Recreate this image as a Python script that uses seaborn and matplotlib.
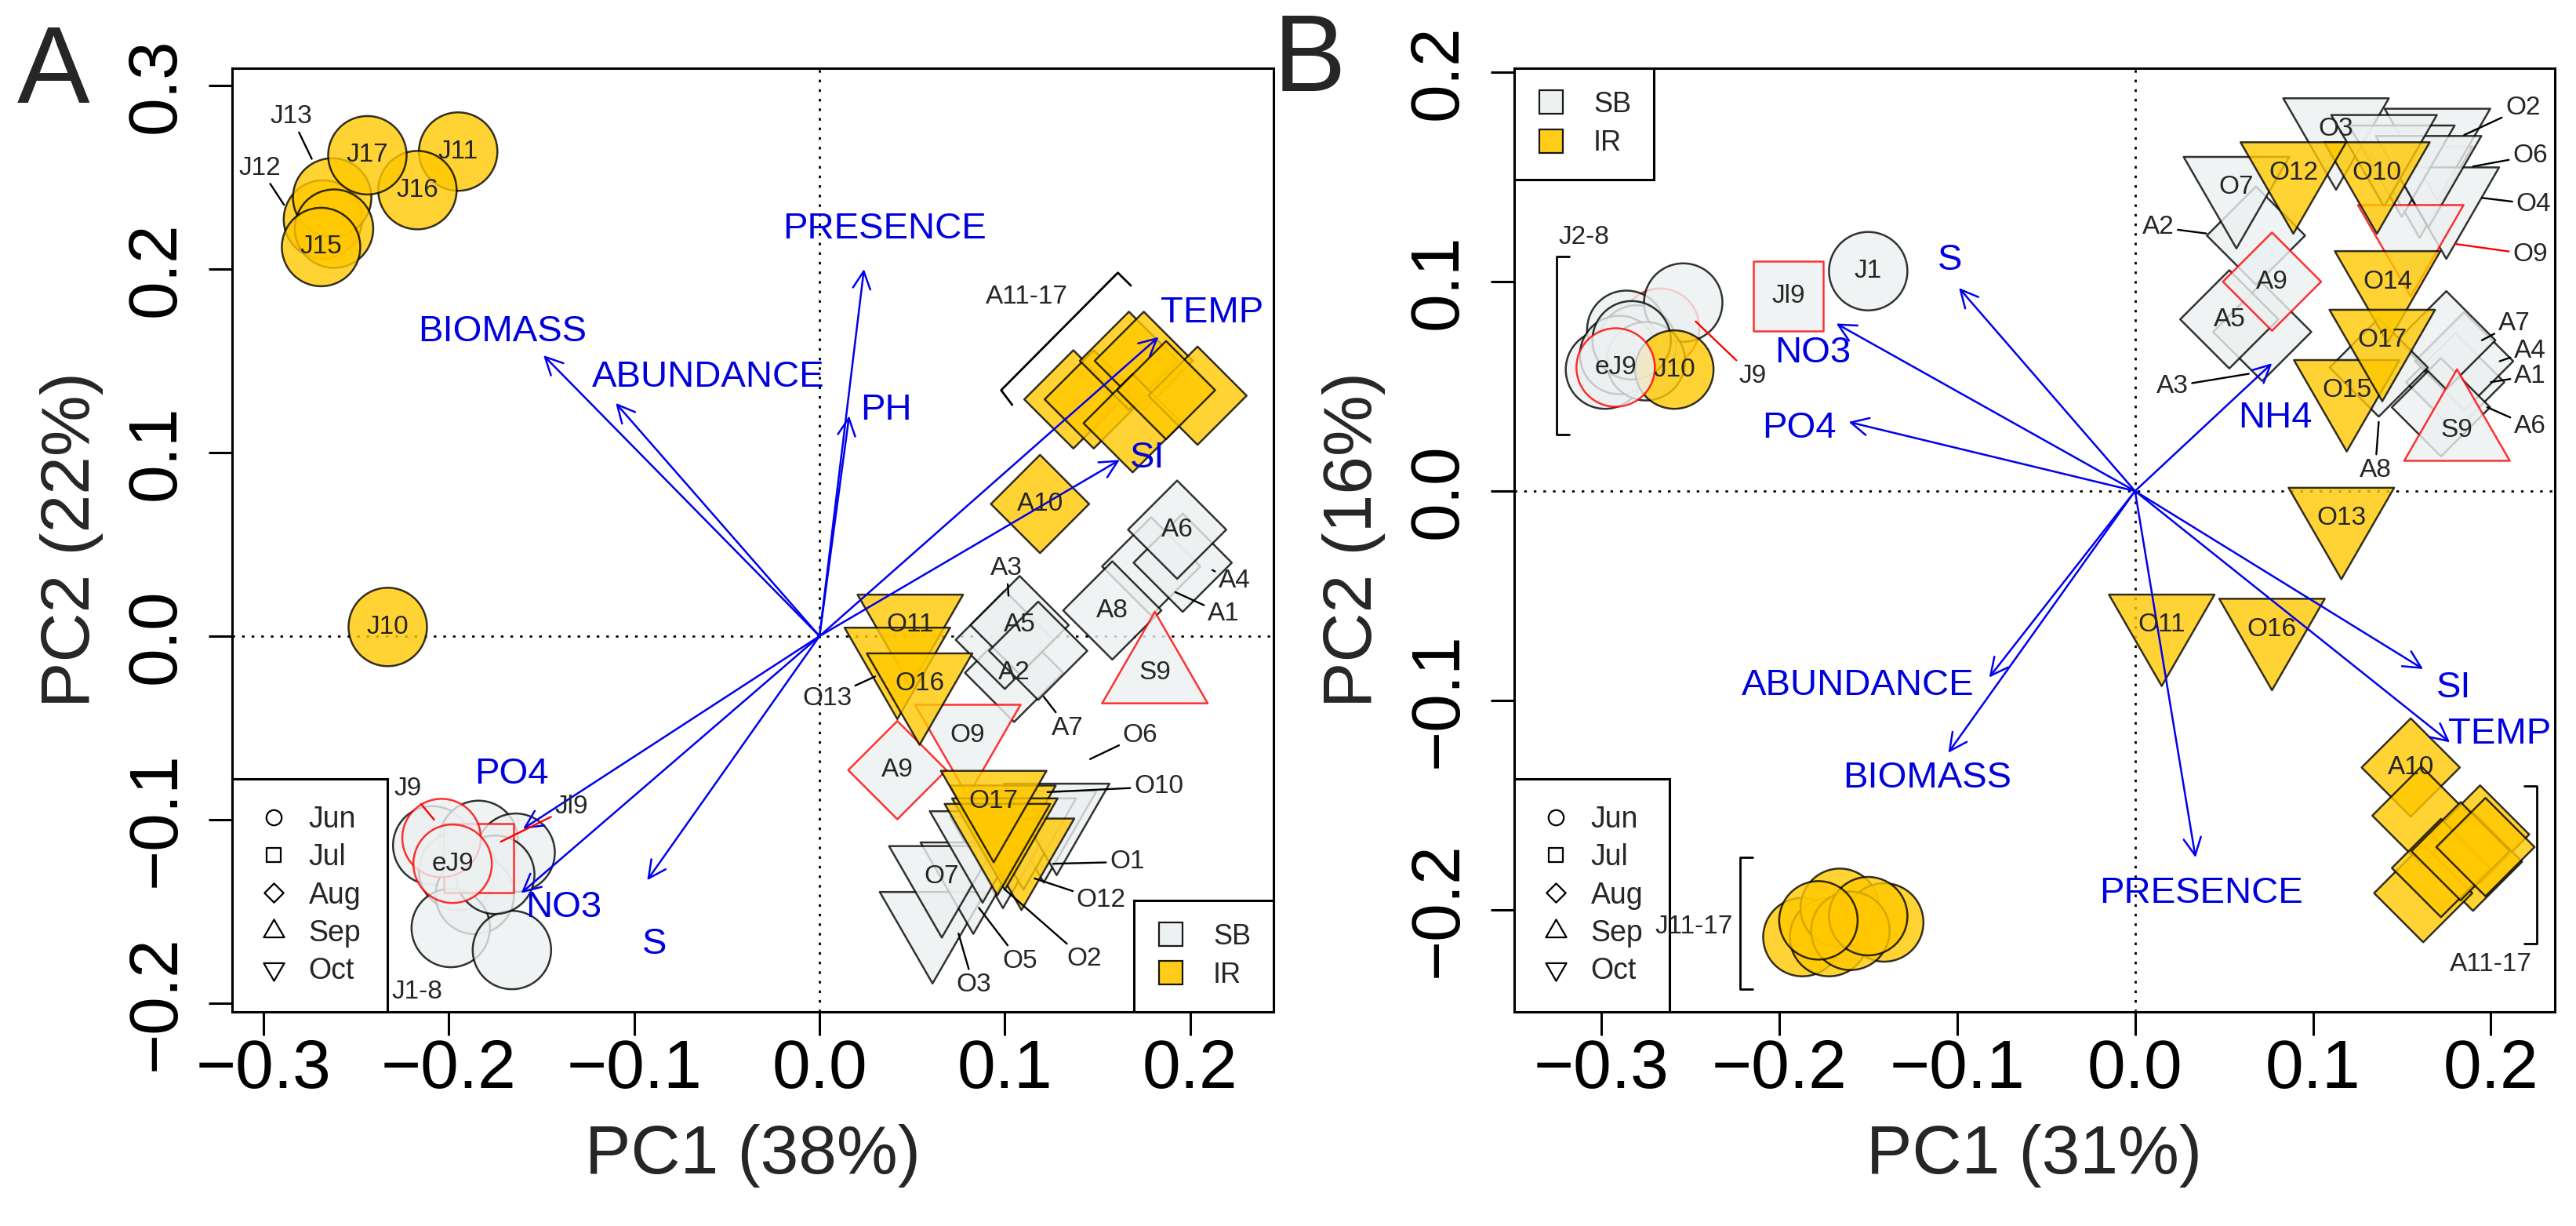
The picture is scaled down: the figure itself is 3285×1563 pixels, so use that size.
import numpy as np
import pandas as pd
import matplotlib
matplotlib.use("Agg")
import matplotlib.pyplot as plt
from matplotlib.path import Path
from matplotlib.lines import Line2D
import seaborn as sns

sns.set_style("ticks")
plt.rcParams['font.family'] = ['Liberation Sans', 'DejaVu Sans']

#### panel A : samples (PC1 38%, PC2 22%)
a_names = ['J1', 'J2', 'J3', 'J4', 'J5', 'J6', 'J7', 'J8', 'Jl9', 'J9', 'eJ9',
           'J10', 'J11', 'J12', 'J13', 'J14', 'J15', 'J16', 'J17',
           'A1', 'A2', 'A3', 'A4', 'A5', 'A6', 'A7', 'A8', 'A9',
           'A10', 'A11', 'A12', 'A13', 'A14', 'A15', 'A16', 'A17',
           'S9',
           'O1', 'O2', 'O3', 'O4', 'O5', 'O6', 'O7', 'O8', 'O9',
           'O10', 'O11', 'O12', 'O13', 'O14', 'O15', 'O16', 'O17']
a_x = [-0.209, -0.184, -0.164, -0.195, -0.186, -0.199, -0.166, -0.175, -0.184, -0.204, -0.198,
       -0.233, -0.195, -0.268, -0.263, -0.262, -0.269, -0.217, -0.244,
       0.179, 0.105, 0.100, 0.196, 0.108, 0.193, 0.118, 0.158, 0.042,
       0.119, 0.137, 0.148, 0.167, 0.175, 0.169, 0.204, 0.187,
       0.181,
       0.121, 0.099, 0.061, 0.110, 0.083, 0.128, 0.066, 0.088, 0.080,
       0.099, 0.049, 0.109, 0.042, 0.100, 0.096, 0.054, 0.094]
a_y = [-0.114, -0.111, -0.118, -0.128, -0.141, -0.159, -0.171, -0.130, -0.121, -0.110, -0.124,
       0.005, 0.264, 0.227, 0.239, 0.222, 0.212, 0.243, 0.262,
       0.038, -0.020, -0.002, 0.040, 0.006, 0.058, -0.008, 0.014, -0.073,
       0.072, 0.129, 0.129, 0.150, 0.150, 0.116, 0.131, 0.134,
       -0.020,
       -0.101, -0.115, -0.156, -0.105, -0.129, -0.097, -0.131, -0.112, -0.054,
       -0.098, 0.006, -0.116, -0.012, -0.105, -0.108, -0.026, -0.090]
a_inner = ['J10', 'J11', 'J15', 'J16', 'J17', 'eJ9', 'A2', 'A5', 'A6', 'A8', 'A9', 'A10',
           'S9', 'O7', 'O9', 'O11', 'O16', 'O17']
# labels with leader lines: text, label x, label y, target x, target y
a_call = [('J13', -0.285, 0.283, -0.274, 0.260), ('J12', -0.302, 0.255, -0.289, 0.235),
          ('J9', -0.222, -0.083, -0.208, -0.100), ('Jl9', -0.134, -0.093, -0.172, -0.112),
          ('O13', 0.004, -0.034, 0.030, -0.022), ('O6', 0.173, -0.054, 0.146, -0.067),
          ('O10', 0.183, -0.082, 0.123, -0.085), ('O1', 0.166, -0.123, 0.126, -0.124),
          ('O12', 0.152, -0.144, 0.116, -0.132), ('O2', 0.143, -0.176, 0.100, -0.138),
          ('O5', 0.108, -0.177, 0.086, -0.148), ('O3', 0.083, -0.190, 0.075, -0.162),
          ('A3', 0.101, 0.037, 0.102, 0.022), ('A7', 0.134, -0.050, 0.121, -0.033),
          ('A4', 0.224, 0.030, 0.212, 0.036), ('A1', 0.218, 0.012, 0.192, 0.024)]
a_red = ['J9', 'Jl9']
# environmental arrows: name, head x, head y, label x, label y
a_vars = ['BIOMASS', 'ABUNDANCE', 'PH', 'PRESENCE', 'TEMP', 'SI', 'PO4', 'NO3', 'S']
a_vx = [-0.149, -0.110, 0.016, 0.024, 0.183, 0.162, -0.160, -0.161, -0.093]
a_vy = [0.153, 0.127, 0.120, 0.200, 0.163, 0.096, -0.105, -0.140, -0.133]
a_lx = [-0.171, -0.060, 0.036, 0.035, 0.212, 0.177, -0.166, -0.138, -0.089]
a_ly = [0.166, 0.141, 0.123, 0.222, 0.176, 0.097, -0.075, -0.148, -0.168]
# brackets: polyline x, polyline y, label, label x, label y, ha
a_brackets = [([0.104, 0.098, 0.161, 0.168], [0.126, 0.134, 0.198, 0.191], 'A11-17', 0.112, 0.185, 'center'),
              ([-0.234, -0.240, -0.240, -0.234], [-0.088, -0.088, -0.189, -0.189], 'J1-8', -0.231, -0.194, 'left')]

#### panel B : samples (PC1 31%, PC2 16%)
b_names = ['J9', 'J2', 'J3', 'J4', 'J5', 'J6', 'J7', 'J8', 'J1', 'Jl9', 'J10', 'eJ9',
           'J11', 'J12', 'J13', 'J14', 'J15', 'J16', 'J17',
           'A1', 'A2', 'A3', 'A4', 'A5', 'A6', 'A7', 'A8', 'A9',
           'A10', 'A11', 'A12', 'A13', 'A14', 'A15', 'A16', 'A17',
           'S9',
           'O1', 'O2', 'O3', 'O4', 'O5', 'O6', 'O7', 'O8', 'O9',
           'O10', 'O11', 'O12', 'O13', 'O14', 'O15', 'O16', 'O17']
b_x = [-0.267, -0.298, -0.286, -0.280, -0.254, -0.290, -0.275, -0.283, -0.150, -0.195, -0.259, -0.292,
       -0.187, -0.172, -0.166, -0.141, -0.160, -0.150, -0.178,
       0.180, 0.068, 0.0715, 0.185, 0.053, 0.172, 0.175, 0.137, 0.077,
       0.155, 0.161, 0.194, 0.190, 0.162, 0.172, 0.183, 0.197,
       0.181,
       0.160, 0.170, 0.113, 0.175, 0.150, 0.165, 0.057, 0.140, 0.155,
       0.136, 0.015, 0.089, 0.116, 0.142, 0.119, 0.077, 0.139]
b_y = [0.078, 0.058, 0.077, 0.070, 0.090, 0.065, 0.062, 0.072, 0.105, 0.093, 0.058, 0.059,
       -0.213, -0.213, -0.199, -0.206, -0.210, -0.203, -0.205,
       0.052, 0.122, 0.076, 0.062, 0.082, 0.040, 0.072, 0.059, 0.100,
       -0.132, -0.155, -0.164, -0.177, -0.192, -0.180, -0.172, -0.170,
       0.029,
       0.150, 0.168, 0.173, 0.140, 0.160, 0.155, 0.145, 0.165, 0.122,
       0.152, -0.064, 0.152, -0.013, 0.100, 0.048, -0.066, 0.072]
b_inner = ['J1', 'Jl9', 'eJ9', 'J10', 'A5', 'A9', 'A10', 'S9',
           'O3', 'O7', 'O10', 'O11', 'O12', 'O13', 'O14', 'O15', 'O16', 'O17']
b_call = [('J9', -0.215, 0.055, -0.247, 0.081), ('A2', 0.013, 0.126, 0.040, 0.123),
          ('A3', 0.021, 0.050, 0.064, 0.056), ('A8', 0.135, 0.010, 0.137, 0.033),
          ('O2', 0.218, 0.183, 0.185, 0.170), ('O6', 0.222, 0.160, 0.190, 0.155),
          ('O4', 0.224, 0.137, 0.195, 0.140), ('O9', 0.222, 0.113, 0.180, 0.118),
          ('A7', 0.213, 0.080, 0.195, 0.072), ('A4', 0.222, 0.067, 0.205, 0.062),
          ('A1', 0.222, 0.055, 0.200, 0.052), ('A6', 0.222, 0.031, 0.198, 0.040)]
b_red = ['J9', 'O9']
b_vars = ['S', 'NO3', 'PO4', 'NH4', 'SI', 'TEMP', 'PRESENCE', 'ABUNDANCE', 'BIOMASS']
b_vx = [-0.099, -0.168, -0.161, 0.077, 0.162, 0.177, 0.034, -0.082, -0.105]
b_vy = [0.097, 0.080, 0.033, 0.061, -0.085, -0.120, -0.175, -0.089, -0.125]
b_lx = [-0.104, -0.181, -0.189, 0.079, 0.179, 0.205, 0.037, -0.156, -0.117]
b_ly = [0.110, 0.066, 0.030, 0.035, -0.094, -0.116, -0.192, -0.093, -0.137]
b_brackets = [([-0.318, -0.325, -0.325, -0.318], [0.112, 0.112, 0.027, 0.027], 'J2-8', -0.310, 0.121, 'center'),
              ([-0.215, -0.222, -0.222, -0.215], [-0.175, -0.175, -0.238, -0.238], 'J11-17', -0.226, -0.208, 'right'),
              ([0.219, 0.226, 0.226, 0.219], [-0.141, -0.141, -0.216, -0.216], 'A11-17', 0.200, -0.226, 'center')]

# marker shapes like R pch 21-25 (centred like R)
circle_d = 72
month_markers = {'Jun': 'o',
                 'Jul': Path([(-1, -1), (1, -1), (1, 1), (-1, 1), (-1, -1)], closed=True),
                 'Aug': Path([(0, 1), (1, 0), (0, -1), (-1, 0), (0, 1)], closed=True),
                 'Sep': Path([(0, 1), (-0.866, -0.5), (0.866, -0.5), (0, 1)], closed=True),
                 'Oct': Path([(0, -1), (-0.866, 0.5), (0.866, 0.5), (0, -1)], closed=True)}
month_scale = {'Jun': 1.0, 'Jul': 0.886, 'Aug': 1.253, 'Sep': 1.555, 'Oct': 1.555}
month_sizes = {m: (circle_d * f) ** 2 for m, f in month_scale.items()}
site_colors = {'SB': '#EDF0F0', 'IR': '#FFC800'}


def month_of(name):
    if name.startswith('Jl'):
        return 'Jul'
    return {'J': 'Jun', 'e': 'Jun', 'A': 'Aug', 'S': 'Sep', 'O': 'Oct'}[name[0]]


def num_of(name):
    return int(''.join(c for c in name if c.isdigit()))


def draw_panel(ax, names, xs, ys, inner, calls, reds, vars_, vx, vy, lx, ly, brackets):
    ax.axhline(0, color='black', lw=2.0, ls=(0, (1.2, 3.2)), zorder=1)
    ax.axvline(0, color='black', lw=2.0, ls=(0, (1.2, 3.2)), zorder=1)
    df = pd.DataFrame({'name': names, 'x': xs, 'y': ys})
    df['month'] = df['name'].map(month_of)
    df['site'] = ['IR' if num_of(n) >= 10 else 'SB' for n in names]
    edges = ['red' if num_of(n) == 9 else 'black' for n in names]
    sns.scatterplot(data=df, x='x', y='y', hue='site', style='month', size='month',
                    palette=site_colors, markers=month_markers, sizes=month_sizes,
                    edgecolor=edges, linewidth=1.8, alpha=0.8, legend=False, ax=ax, zorder=3)
    for i, n in enumerate(names):
        if n in inner:
            ax.text(xs[i], ys[i], n, ha='center', va='center', fontsize=24, zorder=6)
    for t, tx, ty, px, py in calls:
        col = 'red' if t in reds else 'black'
        ax.annotate(t, xy=(px, py), xytext=(tx, ty), ha='center', va='center', fontsize=24,
                    arrowprops=dict(arrowstyle='-', color=col, lw=1.7, shrinkA=1, shrinkB=0),
                    zorder=6)
    for bx, by, t, tx, ty, ha in brackets:
        ax.plot(bx, by, color='black', lw=2.0, zorder=5)
        ax.text(tx, ty, t, ha=ha, va='center', fontsize=24, zorder=6)
    for i, v in enumerate(vars_):
        ax.annotate('', xy=(vx[i], vy[i]), xytext=(0, 0),
                    arrowprops=dict(arrowstyle='->,head_length=16,head_width=8', mutation_scale=1,
                                    color='#0000EE', lw=1.8, shrinkA=0, shrinkB=0), zorder=4)
        ax.text(lx[i], ly[i], v, color='#0000DD', ha='center', va='center', fontsize=34, zorder=6)
    for s in ax.spines.values():
        s.set_color('black')
        s.set_linewidth(2.2)
    ax.tick_params(direction='out', length=21.6, width=2.2, labelsize=63, colors='black',
                   bottom=True, left=True, top=False, right=False)
    ax.tick_params(axis='x', pad=3)
    ax.tick_params(axis='y', pad=18, labelrotation=90)
    for lab in ax.get_yticklabels():
        lab.set_va('center')


def month_legend(ax):
    hs = []
    for m in ['Jun', 'Jul', 'Aug', 'Sep', 'Oct']:
        hs.append(Line2D([], [], ls='none', marker=month_markers[m], ms=14 * month_scale[m],
                         mfc='none', mec='black', mew=1.6, label=m))
    leg = ax.legend(handles=hs, loc='lower left', bbox_to_anchor=(0, 0), borderaxespad=0,
                    fontsize=27, frameon=True, fancybox=False, edgecolor='black', framealpha=1,
                    handlelength=1.0, handletextpad=0.7, labelspacing=0.33, borderpad=0.9)
    leg.get_frame().set_linewidth(2.2)
    return leg


def site_legend(ax, loc, anchor):
    hs = [Line2D([], [], ls='none', marker='s', ms=22, mfc=site_colors[k], mec='black', mew=1.6,
                 alpha=0.9, label=k) for k in ['SB', 'IR']]
    leg = ax.legend(handles=hs, loc=loc, bbox_to_anchor=anchor, borderaxespad=0,
                    fontsize=26, frameon=True, fancybox=False, edgecolor='black', framealpha=1,
                    handlelength=1.0, handletextpad=1.0, labelspacing=0.4, borderpad=0.8)
    leg.get_frame().set_linewidth(2.2)
    return leg


fig = plt.figure(figsize=(32.85, 15.63), dpi=100)
axA = fig.add_axes([296 / 3285, 1 - 1290 / 1563, 1328 / 3285, 1203 / 1563])
axB = fig.add_axes([1931 / 3285, 1 - 1290 / 1563, 1327 / 3285, 1203 / 1563])

draw_panel(axA, a_names, a_x, a_y, a_inner, a_call, a_red, a_vars, a_vx, a_vy, a_lx, a_ly, a_brackets)
axA.set_xlim(-0.317, 0.245)
axA.set_ylim(-0.2047, 0.3094)
axA.set_xticks([-0.3, -0.2, -0.1, 0.0, 0.1, 0.2])
axA.set_yticks([-0.2, -0.1, 0.0, 0.1, 0.2, 0.3])
axA.set_xlabel('PC1 (38%)', fontsize=63, labelpad=20)
axA.set_ylabel('PC2 (22%)', fontsize=63, labelpad=20)
axA.add_artist(month_legend(axA))
site_legend(axA, 'lower right', (1, 0))

draw_panel(axB, b_names, b_x, b_y, b_inner, b_call, b_red, b_vars, b_vx, b_vy, b_lx, b_ly, b_brackets)
axB.set_xlim(-0.349, 0.236)
axB.set_ylim(-0.2487, 0.2019)
axB.set_xticks([-0.3, -0.2, -0.1, 0.0, 0.1, 0.2])
axB.set_yticks([-0.2, -0.1, 0.0, 0.1, 0.2])
axB.set_xlabel('PC1 (31%)', fontsize=63, labelpad=20)
axB.set_ylabel('PC2 (16%)', fontsize=63, labelpad=20)
axB.add_artist(month_legend(axB))
site_legend(axB, 'upper left', (0, 1))

fig.text(68 / 3285, 1 - 95 / 1563, 'A', fontsize=100, ha='center', va='center')
fig.text(1670 / 3285, 1 - 80 / 1563, 'B', fontsize=100, ha='center', va='center')

fig.savefig('out.png', dpi=100)
